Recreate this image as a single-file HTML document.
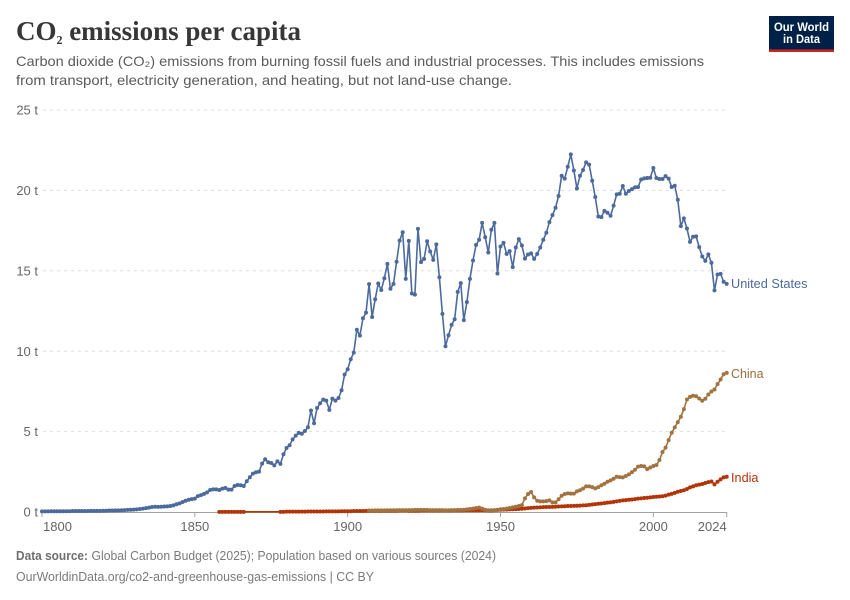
<!DOCTYPE html>
<html lang="en">
<head>
<meta charset="utf-8">
<title>CO₂ emissions per capita</title>
<style>
html,body{margin:0;padding:0;background:#fff;}
svg{display:block;font-family:"Liberation Sans",sans-serif;}
</style>
</head>
<body>
<svg id="chart" xmlns="http://www.w3.org/2000/svg" width="850" height="600" viewBox="0 0 850 600">
  <rect x="0" y="0" width="850" height="600" fill="#fff"/>
  <text x="16" y="40" font-family="'Liberation Serif',serif" font-weight="bold" font-size="27" fill="#373737" textLength="285" lengthAdjust="spacingAndGlyphs">CO<tspan font-size="20">₂</tspan> emissions per capita</text>
  <text x="16" y="66" font-size="14" fill="#5b5b5b" textLength="688" lengthAdjust="spacingAndGlyphs">Carbon dioxide (CO₂) emissions from burning fossil fuels and industrial processes. This includes emissions</text>
  <text x="16" y="85" font-size="14" fill="#5b5b5b" textLength="496" lengthAdjust="spacingAndGlyphs">from transport, electricity generation, and heating, but not land-use change.</text>

  <g>
    <rect x="769" y="16" width="65" height="36" fill="#002147"/>
    <rect x="769" y="49.5" width="65" height="2.5" fill="#ce261e"/>
    <text x="801.5" y="31" text-anchor="middle" font-size="12" font-weight="bold" fill="#fff" textLength="55" lengthAdjust="spacingAndGlyphs">Our World</text>
    <text x="801.5" y="43" text-anchor="middle" font-size="12" font-weight="bold" fill="#fff" textLength="37" lengthAdjust="spacingAndGlyphs">in Data</text>
  </g>

  <g id="grid"></g>
  <g id="yLabels"></g>
  <g id="xAxis"></g>
  <g id="series"></g>

  <text x="731" y="288" font-size="13" fill="#4c6a9c" textLength="76.5" lengthAdjust="spacingAndGlyphs">United States</text>
  <text x="731" y="378" font-size="13" fill="#996d39" textLength="32.5" lengthAdjust="spacingAndGlyphs">China</text>
  <text x="731" y="482" font-size="13" fill="#b13507" textLength="27.5" lengthAdjust="spacingAndGlyphs">India</text>

  <text x="16" y="560" font-size="13" fill="#6e6e6e"><tspan font-weight="bold" textLength="72" lengthAdjust="spacingAndGlyphs">Data source:</tspan></text>
  <text x="91.5" y="560" font-size="13" fill="#7a7a7a" textLength="404.5" lengthAdjust="spacingAndGlyphs">Global Carbon Budget (2025); Population based on various sources (2024)</text>
  <text x="16" y="581" font-size="13" fill="#7a7a7a" textLength="358" lengthAdjust="spacingAndGlyphs">OurWorldinData.org/co2-and-greenhouse-gas-emissions | CC BY</text>
</svg>
<script>
const yTicks = [0, 5, 10, 15, 20, 25];
const xTicks = [1800, 1850, 1900, 1950, 2000, 2024];

const usStartYear = 1800;
const usValues = [
  0.04,0.04,0.04,0.05,0.05,0.05,0.05,0.05,0.05,0.05,
  0.06,0.06,0.06,0.06,0.06,0.06,0.07,0.07,0.07,0.07,
  0.08,0.08,0.09,0.09,0.10,0.10,0.11,0.12,0.13,0.14,
  0.15,0.16,0.19,0.21,0.24,0.27,0.31,0.33,0.32,0.33,
  0.34,0.35,0.37,0.41,0.48,
  0.54,0.62,0.70,0.76,0.80,0.83,0.99,1.05,1.13,1.22,
  1.37,1.41,1.41,1.37,1.45,1.49,1.39,1.39,1.62,1.68,
  1.66,1.62,1.91,2.16,2.39,2.47,2.51,3.01,3.28,3.09,
  3.05,2.90,3.15,2.99,3.59,3.98,4.15,4.52,4.75,4.92,
  4.87,5.04,5.27,6.31,5.52,6.47,6.76,6.99,6.93,6.35,
  7.05,6.93,7.09,7.57,8.55,8.88,9.50,9.91,11.33,10.97,
  12.05,12.40,14.17,12.13,13.23,14.21,13.81,14.54,15.43,13.88,
  14.19,15.56,16.88,17.40,14.50,16.86,13.59,13.52,17.61,15.54,
  15.74,16.84,16.20,15.68,16.64,14.60,12.32,10.31,10.99,11.64,
  11.99,13.69,14.23,11.93,13.05,14.50,15.64,16.61,16.93,17.98,
  17.09,16.14,17.55,17.98,14.83,16.51,16.74,16.05,16.22,15.23,
  16.45,16.97,16.57,15.76,16.01,16.08,15.74,16.05,16.45,16.93,
  17.37,18.03,18.46,18.92,19.65,20.91,20.73,21.47,22.24,21.24,
  20.12,20.91,21.27,21.74,21.60,20.60,19.59,18.38,18.34,18.73,
  18.61,18.42,19.05,19.75,19.79,20.27,19.79,19.96,20.08,20.19,
  20.21,20.68,20.75,20.77,20.79,21.39,20.77,20.71,20.71,20.89,
  20.73,20.21,20.29,19.42,17.78,18.26,17.63,16.80,17.12,17.14,
  16.47,15.89,15.62,16.02,15.50,13.78,14.77,14.81,14.32,14.19
];

const chinaStartYear = 1907;
const chinaValues = [
  0.09,0.09,0.10,0.10,0.10,0.10,0.11,0.11,0.11,0.11,
  0.12,0.12,0.12,0.12,0.12,0.13,0.13,0.13,0.13,0.13,
  0.12,0.12,0.12,0.12,0.12,0.11,0.11,0.12,0.12,0.13,
  0.13,0.14,0.16,0.19,0.21,0.25,0.27,0.21,0.14,0.08,
  0.07,0.09,0.11,
  0.17,0.19,0.21,0.25,0.29,0.33,0.37,0.43,0.85,1.12,
  1.24,0.91,0.70,0.66,0.66,0.68,0.72,0.60,0.60,0.79,
  1.01,1.12,1.16,1.14,1.14,1.28,1.35,1.45,1.59,1.59,
  1.55,1.47,1.55,1.66,1.76,1.88,1.97,2.07,2.19,2.17,
  2.15,2.24,2.34,2.48,2.63,2.82,2.86,2.84,2.67,2.77,
  2.86,2.92,3.23,3.73,4.00,4.47,4.93,5.26,5.59,5.92,
  6.40,7.00,7.16,7.23,7.20,7.06,6.92,7.04,7.31,7.49,
  7.62,7.95,8.24,8.57,8.65
];

const indiaEarlyStartYear = 1858;
const indiaEarlyValues = [0.01,0.01,0.01,0.01,0.01,0.01,0.01,0.01,0.01];
const indiaStartYear = 1878;
const indiaValues = [
  0.01,0.01,0.02,0.02,0.02,0.02,0.02,0.02,0.02,0.03,0.03,0.03,
  0.03,0.03,0.03,0.04,0.04,0.04,0.04,0.04,0.05,0.05,
  0.05,0.05,0.06,0.06,0.06,0.06,0.07,0.07,0.07,0.07,
  0.07,0.07,0.08,0.08,0.08,0.08,0.08,0.09,0.09,0.09,
  0.08,0.08,0.08,0.08,0.09,0.09,0.09,0.09,0.09,0.09,
  0.09,0.09,0.09,0.09,0.09,0.10,0.10,0.10,0.10,0.11,
  0.11,0.11,0.11,0.11,0.11,0.11,0.10,0.10,0.12,0.13,
  0.14,0.15,0.15,0.16,0.17,0.18,0.19,0.20,0.22,0.24,
  0.26,0.27,0.28,0.29,0.30,0.31,0.31,0.32,0.33,0.34,
  0.35,0.36,0.37,0.37,0.38,0.39,0.40,0.41,0.42,0.44,
  0.47,0.49,0.51,0.53,0.55,0.58,0.60,0.63,0.66,0.69,
  0.72,0.74,0.76,0.78,0.80,0.83,0.85,0.87,0.89,0.91,
  0.93,0.95,0.96,0.98,1.02,1.08,1.13,1.19,1.26,1.31,
  1.35,1.43,1.53,1.59,1.66,1.70,1.74,1.80,1.86,1.90,
  1.72,1.88,2.03,2.15,2.19
];

const NS = 'http://www.w3.org/2000/svg';
const X0 = 42, X1 = 726.7, Y0 = 512, Y1 = 110;
function xScale(year) { return X0 + (year - 1800) * (X1 - X0) / (2024 - 1800); }
function yScale(v) { return Y0 - v * (Y0 - Y1) / 25; }
function make(tag, attrs) {
  const el = document.createElementNS(NS, tag);
  for (const k in attrs) el.setAttribute(k, attrs[k]);
  return el;
}

const grid = document.getElementById('grid');
const yLabels = document.getElementById('yLabels');
yTicks.forEach(function (t) {
  if (t > 0) {
    const line = make('line', {x1: X0 + 1, x2: X1, y1: yScale(t), y2: yScale(t), stroke: '#dddddd', 'stroke-dasharray': '3,4'});
    
    
    grid.appendChild(line);
  }
  const label = make('text', {x: 38, y: yScale(t) + 4.6, 'text-anchor': 'end', 'font-size': 13, fill: '#666'});
  
  
  label.textContent = t + ' t';
  yLabels.appendChild(label);
});

const xAxis = document.getElementById('xAxis');
const axisLine = make('line', {x1: X0, x2: X1, y1: Y0 + 0.5, y2: Y0 + 0.5, stroke: '#a1a1a1'});


xAxis.appendChild(axisLine);
xTicks.forEach(function (t, i) {
  const x = xScale(t);
  const tick = make('line', {x1: x, x2: x, y1: Y0, y2: Y0 + 5, stroke: '#a1a1a1'});
  
  
  xAxis.appendChild(tick);
  const anchor = i === 0 ? 'start' : (i === xTicks.length - 1 ? 'end' : 'middle');
  const label = make('text', {x: i === 0 ? x + 1 : x, y: 531, 'text-anchor': anchor, 'font-size': 13, fill: '#666'});
  
  
  label.textContent = t;
  xAxis.appendChild(label);
});

function toPoints(segments) {
  const pts = [];
  segments.forEach(function (seg) {
    seg.values.forEach(function (v, i) {
      pts.push([xScale(seg.start + i), yScale(v)]);
    });
  });
  return pts;
}

function drawSeries(name, color, segments) {
  const g = make('g', {});
  
  
  const pts = toPoints(segments);
  const d = pts.map(function (p, i) { return (i ? 'L' : 'M') + p[0].toFixed(2) + ' ' + p[1].toFixed(2); }).join(' ');
  const path = make('path', {d: d, fill: 'none', stroke: color, 'stroke-width': 1.6, 'stroke-linejoin': 'round'});
  
  
  g.appendChild(path);
  pts.forEach(function (p) {
    const c = make('circle', {cx: p[0].toFixed(2), cy: p[1].toFixed(2), r: 2, fill: color});
    
    
    g.appendChild(c);
  });
  document.getElementById('series').appendChild(g);
}

drawSeries('united-states', '#4c6a9c', [{start: usStartYear, values: usValues}]);
drawSeries('india', '#b13507', [{start: indiaEarlyStartYear, values: indiaEarlyValues}, {start: indiaStartYear, values: indiaValues}]);
drawSeries('china', '#a2733f', [{start: chinaStartYear, values: chinaValues}]);
</script>
</body>
</html>
